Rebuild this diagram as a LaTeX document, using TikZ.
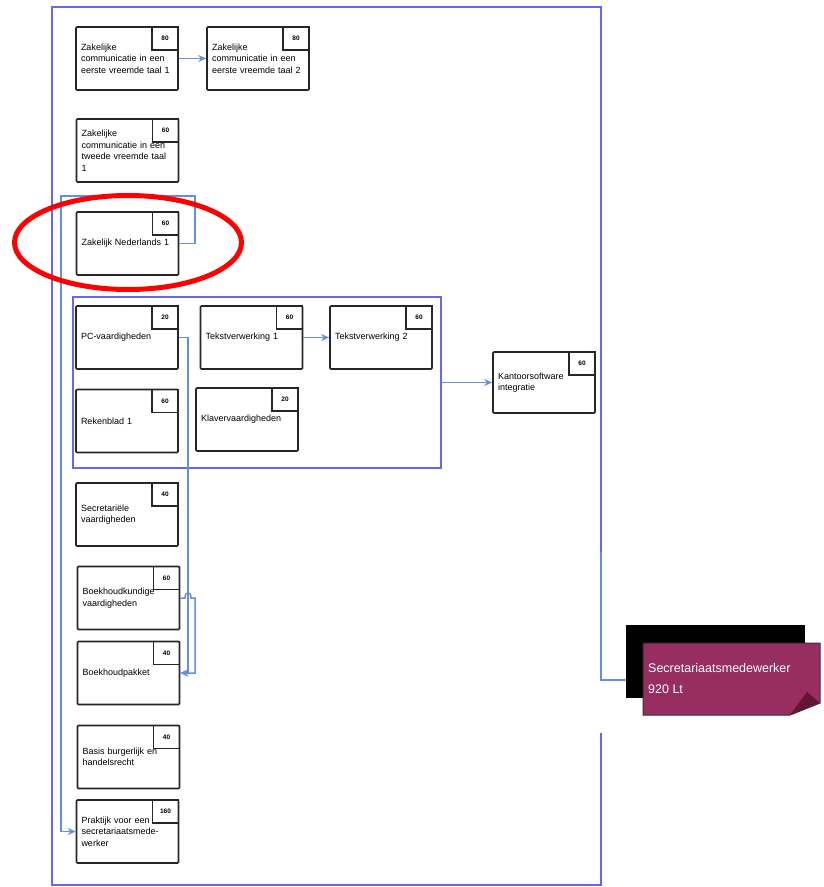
\documentclass[tikz,border=0pt]{standalone}
\usepackage{fontspec}
\setmainfont{Liberation Sans}
\usepackage{tikz}
\usetikzlibrary{arrows.meta, positioning, calc}

\definecolor{frameblue}{RGB}{102,102,245}
\definecolor{linkblue}{RGB}{100,145,215}
\definecolor{cardred}{RGB}{152,46,96}
\definecolor{folddark}{RGB}{100,20,55}

\begin{document}
\begin{tikzpicture}[x=1pt, y=-1pt, >={Stealth[length=8pt, width=7pt]},
  course/.style={draw=black!85, line width=1.6pt, rounded corners=1pt, fill=white,
    minimum width=102pt, minimum height=63pt, text width=92pt, inner sep=5pt,
    align=left, font=\fontsize{9}{11.5}\selectfont},
  credits/.style={draw=black!85, line width=1.6pt, anchor=north east,
    minimum width=26pt, minimum height=23pt, inner sep=0pt,
    font=\fontsize{6.5}{7}\selectfont\bfseries},
  group/.style={draw=frameblue, line width=2pt, inner sep=0pt},
  frame/.style={frameblue, line width=2pt},
  link/.style={linkblue, line width=1.5pt}]
  \fill[white] (0,0) rectangle (823,887);
  \useasboundingbox (0,0) rectangle (823,887);
  % --- outer frame (open where the link leaves it) ---
  \coordinate (frameout) at (601,552);
  \draw[frame] (frameout) -- (601,7) -- (52,7) -- (52,885) -- (601,885) -- (601,733);
  % --- languages ---
  \node[course] (zc1) at (127,58.5) {Zakelijke\\communicatie in een\\eerste vreemde taal 1};
  \node[credits] (zc1n) at (zc1.north east) {80};
  \node[course] (zc2) at (258,58.5) {Zakelijke\\communicatie in een\\eerste vreemde taal 2};
  \node[credits] (zc2n) at (zc2.north east) {80};
  \node[course] (zct) at (127.5,150.5) {Zakelijke\\communicatie in een\\tweede vreemde taal\\1};
  \node[credits] (zctn) at (zct.north east) {60};
  \node[course] (zn1) at (127.5,243.5) {Zakelijk Nederlands 1};
  \node[credits] (zn1n) at (zn1.north east) {60};
  % --- office software group ---
  \node[group, minimum width=368pt, minimum height=171pt] (pcgroup) at (257,382.5) {};
  \node[course] (pcv) at (127,337.5) {PC-vaardigheden};
  \node[credits] (pcvn) at (pcv.north east) {20};
  \node[course] (tv1) at (251.5,337.5) {Tekstverwerking 1};
  \node[credits] (tv1n) at (tv1.north east) {60};
  \node[course] (tv2) at (381,337.5) {Tekstverwerking 2};
  \node[credits] (tv2n) at (tv2.north east) {60};
  \node[course] (rb1) at (127,421) {Rekenblad 1};
  \node[credits] (rb1n) at (rb1.north east) {60};
  \node[course] (klv) at (247,419.5) {Klavervaardigheden};
  \node[credits] (klvn) at (klv.north east) {20};
  \node[course, minimum height=61pt] (kso) at (544,382.5) {Kantoorsoftware\\integratie};
  \node[credits] (kson) at (kso.north east) {60};
  % --- other courses ---
  \node[course] (sev) at (127,514.5) {Secretariële\\vaardigheden};
  \node[credits] (sevn) at (sev.north east) {40};
  \node[course] (bkv) at (128.5,598) {Boekhoudkundige\\vaardigheden};
  \node[credits] (bkvn) at (bkv.north east) {60};
  \node[course] (bkp) at (128.5,673) {Boekhoudpakket};
  \node[credits] (bkpn) at (bkp.north east) {40};
  \node[course] (bbh) at (128.5,757) {Basis burgerlijk en\\handelsrecht};
  \node[credits] (bbhn) at (bbh.north east) {40};
  \node[course] (prk) at (127.5,831.5) {Praktijk voor een\\secretariaatsmede-\\werker};
  \node[credits] (prkn) at (prk.north east) {160};
  % --- links ---
  \draw[link, ->] (zc1) -- (zc2);
  \draw[link, ->] (tv1) -- (tv2);
  \draw[link, ->] (pcgroup) -- (kso);
  \draw[link, ->] (zn1.east) -| (195,196) -| (61,831.5) -- (prk.west);
  \draw[link, ->] (pcv.east) -| (188,673) -- (bkp.east);
  \draw[link, ->] (bkv.east) -- (185,598) .. controls (185,591) and (191,591) .. (191,598)
    -- (195,598) -- (195,673) -- (bkp.east);
  % --- profile card ---
  \node[fill=black, minimum width=179pt, minimum height=73pt, inner sep=0pt] (cardback) at (715.5,661.5) {};
  \draw[link] (frameout) |- (cardback.west |- 0,680);
  \filldraw[fill=cardred, draw=black!80, line width=1pt]
    (643,643) -- (820,643) -- (820,703) -- (790,715) -- (643,715) -- cycle;
  \fill[folddark] (820,703) -- (807,692) -- (790,715) -- cycle;
  \node[anchor=west, text=white, align=left, inner sep=0pt,
    font=\fontsize{12.5}{21}\selectfont] (card) at (648,679) {Secretariaatsmedewerker\\920 Lt};
  % --- highlight ---
  \draw[red, line width=5pt] (128,242.5) ellipse [x radius=113.5, y radius=47];
\end{tikzpicture}
\end{document}
